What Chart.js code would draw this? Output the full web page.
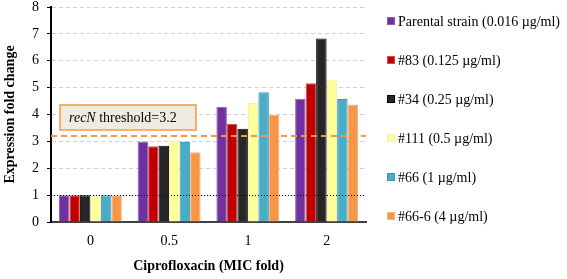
<!DOCTYPE html>
<html>
<head>
<meta charset="utf-8">
<script src="https://cdn.jsdelivr.net/npm/chart.js@4.4.0/dist/chart.umd.min.js"></script>
<style>
  html, body { margin: 0; padding: 0; background: #fff; }
  #wrap { width: 567px; height: 279px; }
</style>
</head>
<body>
<div id="wrap"><canvas id="myChart" width="567" height="279"></canvas></div>
<script>
var categories = ['0', '0.5', '1', '2'];
var seriesNames = ['Parental strain (0.016 \u00b5g/ml)', '#83 (0.125 \u00b5g/ml)', '#34 (0.25 \u00b5g/ml)',
    '#111 (0.5 \u00b5g/ml)', '#66 (1 \u00b5g/ml)', '#66-6 (4 \u00b5g/ml)'];
var parental = [1.0, 3.0, 4.29, 4.59];
var s83 = [1.0, 2.82, 3.66, 5.16];
var s34 = [1.0, 2.84, 3.47, 6.83];
var s111 = [1.0, 3.04, 4.43, 5.29];
var s66 = [1.0, 2.98, 4.83, 4.58];
var s666 = [1.0, 2.6, 3.98, 4.37];
var yTicks = [0, 1, 2, 3, 4, 5, 6, 7, 8];
var threshold = 3.2;
var baseline = 1;

var fills = ['#7030A0', '#C00000', '#262626', '#FFFF99', '#4BACC6', '#F79646'];
var borders = ['#8E5DB5', '#D05050', '#000000', '#F0F0B0', '#3A9AB5', '#F4B183'];
var allSeries = [parental, s83, s34, s111, s66, s666];

var serif = "'Liberation Serif', 'Times New Roman', serif";

var linesPlugin = {
    id: 'lines',
    afterDatasetsDraw: function (chart) {
        var ctx = chart.ctx;
        var area = chart.chartArea;
        var y = chart.scales.y;
        ctx.save();
        // baseline at 1
        ctx.strokeStyle = '#000';
        ctx.lineWidth = 1;
        ctx.setLineDash([1, 2]);
        ctx.beginPath();
        ctx.moveTo(area.left, Math.round(y.getPixelForValue(baseline)) + 0.5);
        ctx.lineTo(area.right, Math.round(y.getPixelForValue(baseline)) + 0.5);
        ctx.stroke();
        // threshold
        ctx.strokeStyle = '#F79646';
        ctx.lineWidth = 2;
        ctx.setLineDash([6, 4]);
        ctx.beginPath();
        ctx.moveTo(area.left, y.getPixelForValue(threshold));
        ctx.lineTo(area.right, y.getPixelForValue(threshold));
        ctx.stroke();
        // label box
        ctx.setLineDash([]);
        var bx = area.left + 9, by = y.getPixelForValue(threshold) - 31, bw = 136, bh = 25;
        ctx.fillStyle = '#EEECE1';
        ctx.fillRect(bx, by, bw, bh);
        ctx.strokeStyle = '#F79646';
        ctx.lineWidth = 1.5;
        ctx.strokeRect(bx, by, bw, bh);
        ctx.fillStyle = '#000';
        ctx.textBaseline = 'middle';
        ctx.font = 'italic 14px ' + serif;
        var tx = bx + 9;
        ctx.fillText('recN', tx, by + bh / 2 + 1);
        tx += ctx.measureText('recN ').width;
        ctx.font = '14px ' + serif;
        ctx.fillText('threshold=3.2', tx, by + bh / 2 + 1);

        // legend on the right
        var lx = area.right + 21;
        chart.data.datasets.forEach(function (ds, i) {
            var cy = 21 + i * 39;
            ctx.fillStyle = ds.backgroundColor;
            ctx.fillRect(lx, cy - 4, 8, 8);
            ctx.strokeStyle = ds.borderColor;
            ctx.lineWidth = 1;
            ctx.strokeRect(lx + 0.5, cy - 3.5, 7, 7);
            ctx.fillStyle = '#000';
            ctx.font = '14px ' + serif;
            ctx.fillText(ds.label, lx + 11, cy + 1);
        });
        ctx.restore();
    }
};

var ctx = document.getElementById('myChart').getContext('2d');
var myChart = new Chart(ctx, {
    type: 'bar',
    data: {
        labels: categories,
        datasets: allSeries.map(function (vals, i) {
            return {
                label: seriesNames[i],
                data: vals,
                backgroundColor: fills[i],
                borderColor: borders[i],
                borderWidth: 1
            };
        })
    },
    options: {
        responsive: false,
        animation: false,
        layout: { padding: { top: 7, right: 201, left: 2, bottom: 0 } },
        datasets: { bar: { categoryPercentage: 0.8, barPercentage: 1 } },
        plugins: {
            tooltip: { enabled: false },
            legend: { display: false }
        },
        scales: {
            x: {
                afterFit: function (s) { s.height = 57; },
                grid: { display: false, drawTicks: false },
                border: { color: '#404040', width: 2 },
                ticks: { color: '#000', font: { family: serif, size: 14 }, padding: 11 },
                title: {
                    display: true,
                    text: 'Ciprofloxacin (MIC fold)',
                    color: '#000',
                    font: { family: serif, size: 14, weight: 'bold' },
                    padding: { top: 0, bottom: 4 }
                }
            },
            y: {
                min: 0,
                max: 8,
                afterFit: function (s) { s.width = 49; s.paddingTop = 0; s.paddingBottom = 0; },
                afterBuildTicks: function (axis) {
                    axis.ticks = yTicks.map(function (v) { return { value: v }; });
                },
                grid: {
                    color: '#D0D0D0',
                    tickColor: '#000',
                    tickLength: 4,
                    tickBorderDash: []
                },
                border: { color: '#000', width: 2, dash: [4, 3] },
                ticks: { color: '#000', font: { family: serif, size: 14 }, padding: 8 },
                title: {
                    display: true,
                    text: 'Expression fold change',
                    color: '#000',
                    font: { family: serif, size: 14, weight: 'bold' },
                    padding: { top: 0, bottom: 0 }
                }
            }
        }
    },
    plugins: [linesPlugin]
});
</script>
</body>
</html>
